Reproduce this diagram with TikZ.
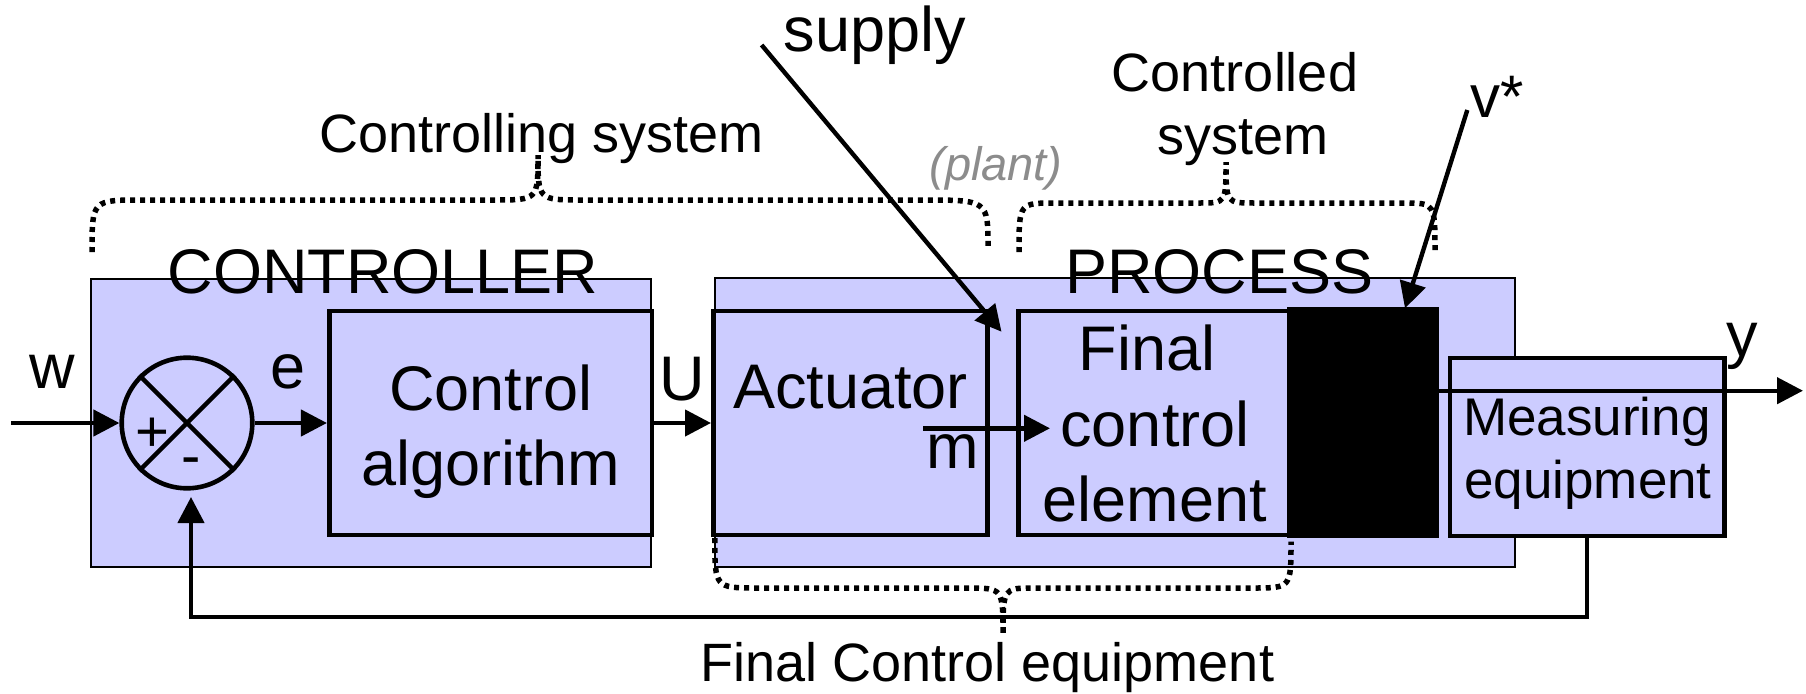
\documentclass[tikz,border=0pt]{standalone}
\usepackage{fontspec}
\setmainfont{Liberation Sans}
\usetikzlibrary{arrows.meta}
\definecolor{lav}{HTML}{CCCCFF}
\definecolor{plantgray}{HTML}{8C8C8C}
\newcommand\fsBig{\fontsize{63}{75}\selectfont}
\newcommand\fsMid{\fontsize{54}{62}\selectfont}
\newcommand\fsMeas{\fontsize{53}{62}\selectfont}
\newcommand\fsSign{\fontsize{58}{62}\selectfont}
\newcommand\fsPlant{\fontsize{47}{54}\selectfont}
\begin{document}
\begin{tikzpicture}[x=1pt,y=-1pt,
  thinbox/.style={draw, line width=2pt, fill=lav, inner sep=0pt},
  thickbox/.style={draw, line width=4.6pt, fill=lav, inner sep=0pt},
  lbl/.style={inner sep=0pt, anchor=base},
  arr/.style={line width=4.4pt, -{Triangle[length=26pt,width=26pt]}},
  dotb/.style={line width=5.5pt, dash pattern=on 5pt off 5pt},
  big/.style={font=\fsBig},
  mid/.style={font=\fsMid}]
\useasboundingbox (0,0) rectangle (1806,693);

% outer boxes
\node[thinbox, minimum width=560.4pt, minimum height=287.7pt] (ctrl) at (370.8,422.85) {};
\node[thinbox, minimum width=800.3pt, minimum height=288.4pt] (proc) at (1114.85,422.5) {};
\node[lbl, big] (ctrlt) at (383,293) {CONTROLLER};
\node[lbl, big] (proct) at (1219.5,293) {PROCESS};

% inner blocks
\node[thickbox, minimum width=322.7pt, minimum height=224pt] (alg) at (490.6,423) {};
\node[thickbox, minimum width=274pt, minimum height=224pt] (act) at (850.3,423) {};
\node[thickbox, minimum width=271pt, minimum height=224pt] (fce) at (1153.8,423) {};
\node[draw, fill=black, line width=2pt, inner sep=0pt, minimum width=149.5pt, minimum height=228.5pt] (dist) at (1362.75,422.25) {};
\node[thickbox, minimum width=274.5pt, minimum height=178pt] (meas) at (1587.25,447) {};
\node[draw, circle, line width=4.6pt, fill=lav, minimum size=130.6pt, inner sep=0pt] (sum) at (187,423) {};
\draw[line width=4.4pt] (sum.45) -- (sum.225);
\draw[line width=4.4pt] (sum.135) -- (sum.-45);
\node[lbl, font=\fsSign] (plus) at (152,451.6) {+};
\node[lbl, font=\fsSign] (minus) at (191,475) {-};

% block texts
\node[lbl, big] (algt1) at (490.6,410) {Control};
\node[lbl, big] (algt2) at (490.6,485) {algorithm};
\node[lbl, big] (actt) at (850.5,408) {Actuator};
\node[lbl, big] (fcet1) at (1147,370) {Final};
\node[lbl, big] (fcet2) at (1155,446.7) {control};
\node[lbl, big] (fcet3) at (1155,521.7) {element};
\node[lbl, font=\fsMeas] (meast1) at (1587,435) {Measuring};
\node[lbl, font=\fsMeas] (meast2) at (1588,498) {equipment};

% signal labels
\node[lbl, big] (wl) at (52.7,388) {w};
\node[lbl, big] (el) at (288,388) {e};
\node[lbl, big] (ul) at (682,400) {U};
\node[lbl, big] (ml) at (953,468) {m};
\node[lbl, big] (yl) at (1742,356) {y};
\node[lbl, font=\fontsize{60}{66}\selectfont] (vl) at (1497,117) {v*};
\node[lbl, big] (supl) at (875,52) {supply};
\node[lbl, font=\fsPlant\itshape, text=plantgray] (plantl) at (996,180) {(plant)};
\node[lbl, mid] (csl) at (541.5,152) {Controlling system};
\node[lbl, mid] (cdl1) at (1235,91) {Controlled};
\node[lbl, mid] (cdl2) at (1242.5,154) {system};
\node[lbl, mid] (fcel) at (987.5,681.7) {Final Control equipment};

% braces
\draw[dotb] (92,252) .. controls (92,200) .. (142,200) -- (494,200)
  .. controls (538,200) .. (538,155) .. controls (538,200) .. (582,200)
  -- (922,200) .. controls (988,200) .. (988,248);
\draw[dotb] (1019,252) .. controls (1019,203) .. (1055,203) -- (1200,203)
  .. controls (1226,203) .. (1226,162) .. controls (1226,203) .. (1254,203)
  -- (1404,203) .. controls (1435,203) .. (1435,252);
\draw[dotb] (714.8,538) .. controls (714.8,588) .. (758,588) -- (967,588)
  .. controls (1003,588) .. (1003,635) .. controls (1003,588) .. (1034,588)
  -- (1253,588) .. controls (1291,588) .. (1291,541.7);

% connectors
\coordinate (win) at (11,423);
\draw[arr] (win) -- (sum.west);
\draw[arr] (sum.east) -- (alg.west);
\draw[arr] (alg.east) -- (act.west);
\coordinate (mstart) at (923.3,428.3);
\coordinate (mend) at (1050,428.3);
\draw[arr] (mstart) -- (mend);
\coordinate (yend) at (1803,390.7);
\draw[arr] (dist.east |- yend) -- (yend);
\coordinate (fbturn) at (1587.25,616.7);
\coordinate (fbend) at (191,497);
\draw[arr] (meas.south) -- (fbturn) -| (fbend);
\coordinate (sup0) at (761.6,45);
\coordinate (sup1) at (1001.5,331.7);
\draw[arr] (sup0) -- (sup1);
\coordinate (v0) at (1467.3,110);
\coordinate (v1) at (1405,308.3);
\draw[arr] (v0) -- (v1);
\end{tikzpicture}
\end{document}
